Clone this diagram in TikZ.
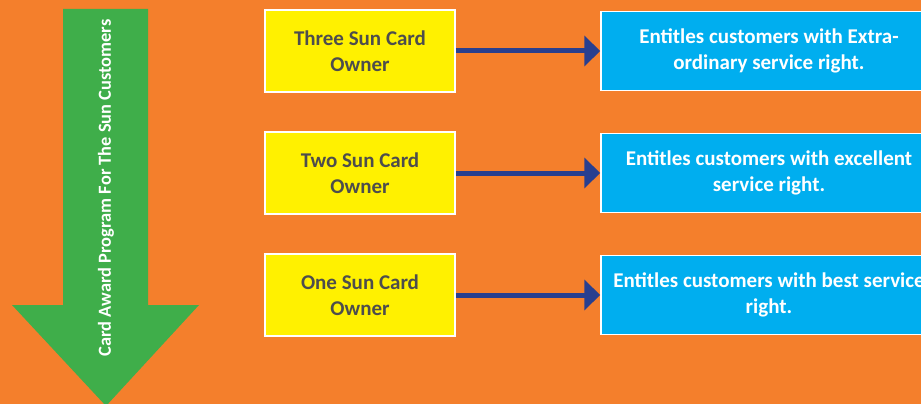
\documentclass[tikz,border=0pt]{standalone}
\usepackage{fontspec}
\setmainfont{Carlito}
\usetikzlibrary{arrows.meta,positioning}

\definecolor{bgorange}{HTML}{F47F2C}
\definecolor{arrowgreen}{HTML}{3FAE4A}
\definecolor{cardyellow}{HTML}{FFF100}
\definecolor{rightblue}{HTML}{00AEEF}
\definecolor{linkblue}{HTML}{283F8F}
\definecolor{cardtext}{HTML}{4D4D4D}

\tikzset{
  cardbox/.style={rectangle, draw=white, line width=1.5pt, fill=cardyellow,
    minimum width=190pt, minimum height=82pt, align=center,
    font=\fontsize{21}{25.5}\selectfont\bfseries, text=cardtext},
  rightbox/.style={rectangle, draw=white, line width=1.5pt, fill=rightblue,
    minimum width=336pt, minimum height=79pt, align=center,
    font=\fontsize{21}{25.5}\selectfont\bfseries, text=white},
  link/.style={linkblue, line width=5pt, -{Triangle[length=16pt,width=30pt]}}
}

\begin{document}
\begin{tikzpicture}[x=1pt,y=-1pt]

       % background
       \useasboundingbox (0,0) rectangle (921,404);
       \clip (0,0) rectangle (921,404);
       \fill[bgorange] (0,0) rectangle (921,404);

       % big green arrow
       \fill[arrowgreen] (63,9) -- (148,9) -- (148,305) -- (199,305)
       -- (106,406) -- (12,305) -- (63,305) -- cycle;
       \node[rotate=90, text=white, font=\fontsize{18.4}{22}\selectfont\bfseries]
       (program) at (106,188) {Card Award Program For The Sun Customers};

       % card owners
       \node[cardbox] (three) at (360,51)  {Three Sun Card\\Owner};
       \node[cardbox] (two)   at (360,173) {Two Sun Card\\Owner};
       \node[cardbox] (one)   at (360,295) {One Sun Card\\Owner};

       % service rights
       \node[rightbox] (extra)     at (769,51)  {Entitles customers with Extra-\\ordinary service right.};
       \node[rightbox] (excellent) at (769,173) {Entitles customers with excellent\\service right.};
       \node[rightbox] (best)      at (769,295) {Entitles customers with best service\\right.};

       \draw[link] (three) -- (extra);
       \draw[link] (two)   -- (excellent);
       \draw[link] (one)   -- (best);

     \end{tikzpicture}
\end{document}
